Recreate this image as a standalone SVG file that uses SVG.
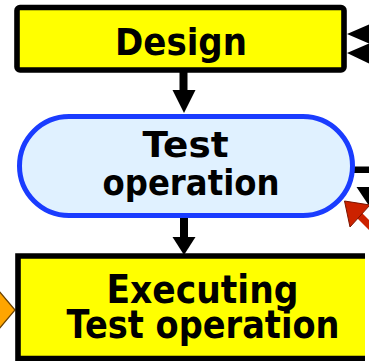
<svg xmlns="http://www.w3.org/2000/svg" width="369" height="361" viewBox="0 0 369 361">
<style>
.t{font-family:"DejaVu Sans",Verdana,sans-serif;font-weight:bold;fill:#000;text-anchor:middle}
.box{fill:#ffff00;stroke:#000;stroke-width:5.6}
.ah{fill:#000}
</style>
<rect width="369" height="361" fill="#fff"/>
<g id="connectors">
  <rect x="179.5" y="71" width="8" height="20" class="ah"/>
  <polygon points="172.5,90 195.5,90 184,113" class="ah"/>
  <rect x="180" y="217" width="8" height="21" class="ah"/>
  <polygon points="172.5,237 195.5,237 184,255" class="ah"/>
  <rect x="354" y="166.5" width="16" height="6.5" class="ah"/>
  <polygon points="356.5,187 381,187 368.5,205" class="ah"/>
  <polygon points="347,34 370,24 370,44" class="ah"/>
  <polygon points="347,53 370,43 370,64" class="ah"/>
  <polygon points="15,310 -12,278 -12,342" fill="#ffa500" stroke="#6b4200" stroke-width="1.2"/>
  <g fill="#cc2200" stroke="#7a1400" stroke-width="1">
    <line x1="357" y1="213" x2="385" y2="241" stroke="#cc2200" stroke-width="7"/>
    <polygon points="344.5,201 370,205 350,227"/>
  </g>
</g>
<g id="design">
  <rect x="17" y="7.5" width="327" height="62.5" rx="3" class="box"/>
  <text x="181" y="55" class="t" font-size="38" textLength="132" lengthAdjust="spacingAndGlyphs">Design</text>
</g>
<g id="test-operation">
  <rect x="19.5" y="116.5" width="333" height="99" rx="49.5" fill="#e0f1ff" stroke="#1a3cff" stroke-width="5"/>
  <text x="185.5" y="157" class="t" font-size="35" textLength="86" lengthAdjust="spacingAndGlyphs">Test</text>
  <text x="191" y="195" class="t" font-size="35" textLength="177" lengthAdjust="spacingAndGlyphs">operation</text>
</g>
<g id="executing">
  <rect x="18" y="256" width="347" height="102.5" fill="#ffff00"/>
  <path d="M365,256 H18 V358.5 H365" fill="none" stroke="#000" stroke-width="5.6"/>
  <text x="202.5" y="303" class="t" font-size="39" textLength="192" lengthAdjust="spacingAndGlyphs">Executing</text>
  <text x="203" y="338" class="t" font-size="39" textLength="273" lengthAdjust="spacingAndGlyphs">Test operation</text>
</g>
</svg>
